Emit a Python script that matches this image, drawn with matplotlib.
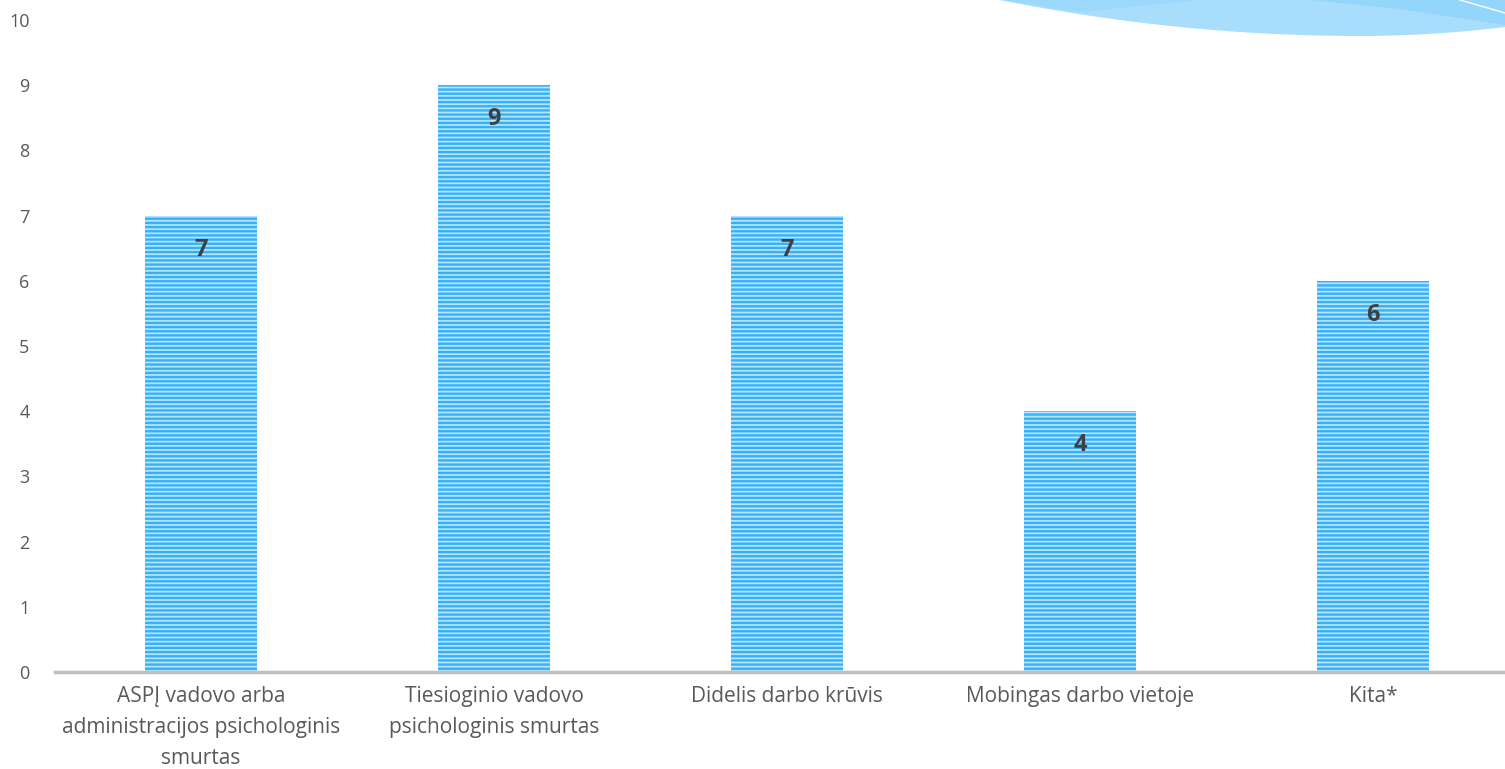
import numpy as np
import matplotlib.pyplot as plt
from matplotlib.patches import Polygon

categories = ["ASPĮ vadovo arba\nadministracijos psichologinis\nsmurtas",
              "Tiesioginio vadovo\npsichologinis smurtas",
              "Didelis darbo krūvis",
              "Mobingas darbo vietoje",
              "Kita*"]
values = [7, 9, 7, 4, 6]
yticks = list(range(0, 11))

plt.rcParams['font.family'] = ['Open Sans', 'DejaVu Sans']
plt.rcParams['hatch.linewidth'] = 1.7

W, H = 1505, 769
fig = plt.figure(figsize=(W / 100, H / 100), dpi=100)


# swoosh decoration top right (figure pixel coords, y from top)
def px(points):
    return [(x / W, 1 - y / H) for x, y in points]


xs = np.linspace(1000, 1505, 60)
low = 36 - 36 * ((xs - 1360) / 360) ** 2
low = np.where(xs > 1360, 36 - 9 * ((xs - 1360) / 145) ** 2, low)
outer = [(1000, 0)] + list(zip(xs, low)) + [(1505, 0)]
fig.patches.append(Polygon(px(outer), closed=True, transform=fig.transFigure,
                           facecolor='#a8ddfc', edgecolor='none', zorder=0))
fig.patches.append(Polygon(px([(1000, 0), (1080, 12), (1200, 0)]), closed=True,
                           transform=fig.transFigure, facecolor='#9cd8fb', edgecolor='none', zorder=0))
fig.patches.append(Polygon(px([(1310, 0), (1400, 9), (1505, 25), (1505, 0)]), closed=True,
                           transform=fig.transFigure, facecolor='#93d5fb', edgecolor='none', zorder=0))
fig.lines.append(plt.Line2D([1460 / W, 1505 / W], [1 - 0 / H, 1 - 13 / H], transform=fig.transFigure,
                            color='white', lw=1))

left = 54.5 / W
right = 1519.5 / W
bottom = (H - 672) / H
top = 1 - 20 / H
ax = fig.add_axes([left, bottom, right - left, top - bottom])

x = np.arange(len(categories))
bars = ax.bar(x, values, width=0.38, color='#b6e3fd', edgecolor='#33b2f9',
              linewidth=0, hatch='----', zorder=2)

for xi, v in zip(x, values):
    ax.text(xi, v - 0.52, str(v), ha='center', va='center', fontsize=17,
            fontweight='bold', color='#404040', zorder=3)

ax.set_xlim(-0.5, len(categories) - 0.5)
ax.set_ylim(0, 10)
ax.set_yticks(yticks)
ax.set_yticklabels([str(t) for t in yticks])
ax.set_xticks(x)
ax.set_xticklabels(categories, fontsize=15, color='#595959', linespacing=1.62)
ax.tick_params(axis='y', length=0, labelsize=13, labelcolor='#595959', pad=18)
ax.tick_params(axis='x', length=0, pad=10)
ax.patch.set_alpha(0)

for s in ['top', 'right', 'left']:
    ax.spines[s].set_visible(False)
ax.spines['bottom'].set_color('#bfbfbf')
ax.spines['bottom'].set_linewidth(2.5)

fig.savefig('out.png', dpi=100)
